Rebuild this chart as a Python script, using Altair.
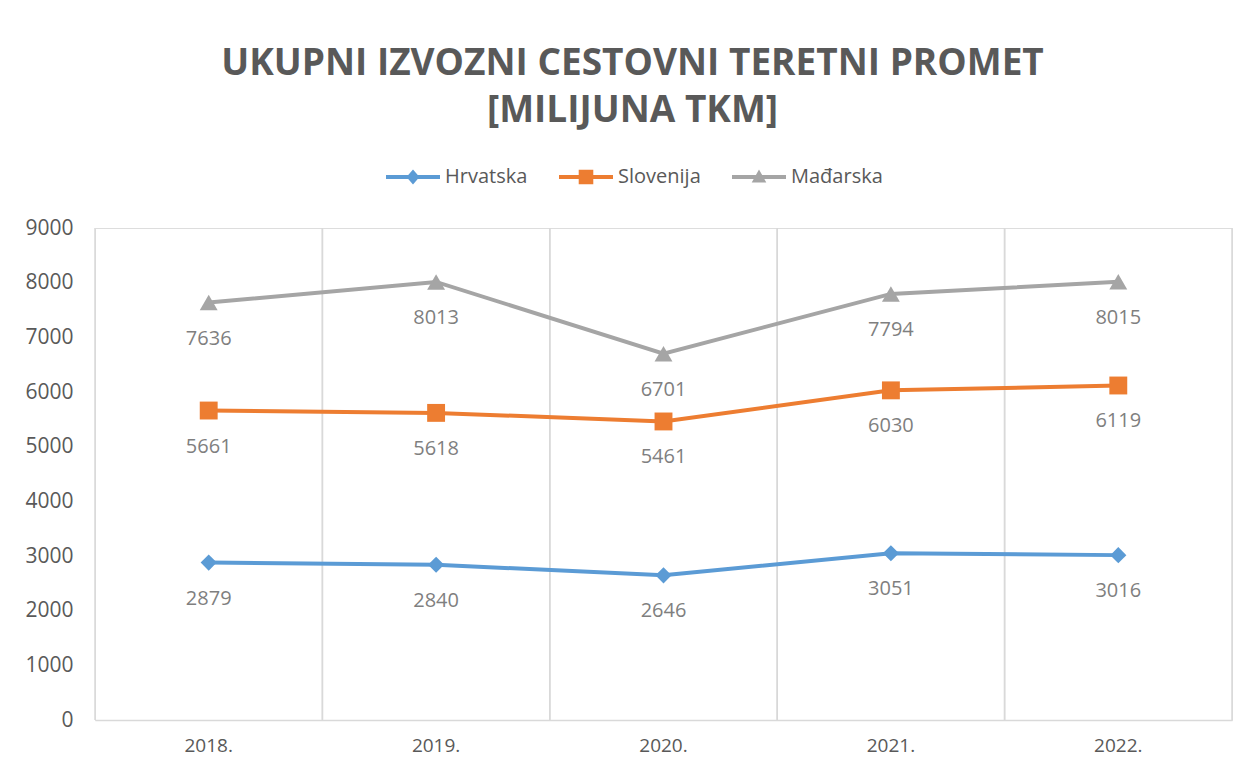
import altair as alt
import pandas as pd

years = ["2018.", "2019.", "2020.", "2021.", "2022."]
series = ["Hrvatska", "Slovenija", "Mađarska"]
hrvatska = [2879, 2840, 2646, 3051, 3016]
slovenija = [5661, 5618, 5461, 6030, 6119]
madarska = [7636, 8013, 6701, 7794, 8015]
colors = ["#5B9BD5", "#ED7D31", "#A5A5A5"]
marker_shapes = ["diamond", "square", "triangle-up"]
marker_sizes = [260, 320, 320]
y_ticks = [0, 1000, 2000, 3000, 4000, 5000, 6000, 7000, 8000, 9000]

rows = []
for name, vals in zip(series, [hrvatska, slovenija, madarska]):
    for yr, v in zip(years, vals):
        rows.append({"year": yr, "series": name, "value": v})
df = pd.DataFrame(rows)
df_years = pd.DataFrame({"year": years})

FONT = "Open Sans"
GRAY_TXT = "#595959"
GRID = "#D9D9D9"

xscale = alt.Scale(type="band", domain=years, paddingInner=0, paddingOuter=0)
yscale = alt.Scale(domain=[0, 9000], nice=False)
cscale = alt.Scale(domain=series, range=colors)

x_axis = alt.Axis(title=None, grid=False, ticks=False, domain=True, domainColor=GRID,
                  domainWidth=1.5, labelAngle=0, labelFont=FONT, labelFontSize=19,
                  labelColor=GRAY_TXT, labelPadding=16)
y_axis = alt.Axis(title=None, grid=False, ticks=False, domain=False, values=y_ticks, format="d",
                  labelFont=FONT, labelFontSize=21, labelColor=GRAY_TXT, labelPadding=22)

legend_paths = [
    "M-1,-0.075H1V0.075H-1Z M0,-0.28L0.24,0L0,0.28L-0.24,0Z",
    "M-1,-0.075H1V0.075H-1Z M-0.27,-0.27H0.27V0.27H-0.27Z",
    "M-1,-0.075H1V0.075H-1Z M0,-0.28L0.27,0.2H-0.27Z",
]

leg = alt.Legend(
    title=None, orient="none", direction="horizontal", legendX=291, legendY=-78,
    labelFont=FONT, labelFontSize=20, labelColor=GRAY_TXT, labelOffset=5,
    symbolSize=2916, columnPadding=31, symbolOpacity=1, symbolStrokeWidth=0)

def X(bp):
    return alt.X("year:N", scale=xscale, axis=x_axis, bandPosition=bp)

Y = alt.Y("value:Q", scale=yscale, axis=y_axis)
C = alt.Color("series:N", scale=cscale, legend=leg)

grid_left = alt.Chart(df_years).mark_rule(color=GRID, strokeWidth=1.5).encode(x=X(0))
grid_right = alt.Chart(df_years).mark_rule(color=GRID, strokeWidth=1.5).encode(x=X(1))

lines = alt.Chart(df).mark_line(strokeWidth=4).encode(
    x=X(0.5), y=Y, color=C, detail="series:N",
)

point_layers = []
for name, shp, sz in zip(series, marker_shapes, marker_sizes):
    point_layers.append(
        alt.Chart(df).transform_filter(alt.datum.series == name)
        .mark_point(filled=True, opacity=1, shape=shp, size=sz)
        .encode(x=X(0.5), y=Y, color=C)
    )

labels = alt.Chart(df).mark_text(font=FONT, fontSize=20, color="#7F7F7F", dy=36, baseline="middle").encode(
    x=X(0.5), y=Y, text=alt.Text("value:Q", format="d"),
)

legend_layer = alt.Chart(df).transform_filter("false").mark_point(filled=True, opacity=1).encode(
    x=X(0.5), y=Y, color=C,
    shape=alt.Shape("series:N", scale=alt.Scale(domain=series, range=legend_paths), legend=leg),
)

chart = alt.layer(grid_left, grid_right, lines, *point_layers, labels, legend_layer).properties(
    width=1137, height=492,
    title=alt.TitleParams(
        text=["UKUPNI IZVOZNI CESTOVNI TERETNI PROMET", "[MILIJUNA TKM]"],
        font=FONT, fontSize=37, fontWeight="bold", color=GRAY_TXT,
        anchor="middle", lineHeight=47, offset=20, dx=-31,
    ),
    autosize=alt.AutoSizeParams(type="none"),
    padding={"left": 95, "top": 228, "right": 18, "bottom": 51},
).configure_view(stroke=None).configure(background="white")

chart.save("out.html", embed_options={"renderer": "svg", "actions": False})
